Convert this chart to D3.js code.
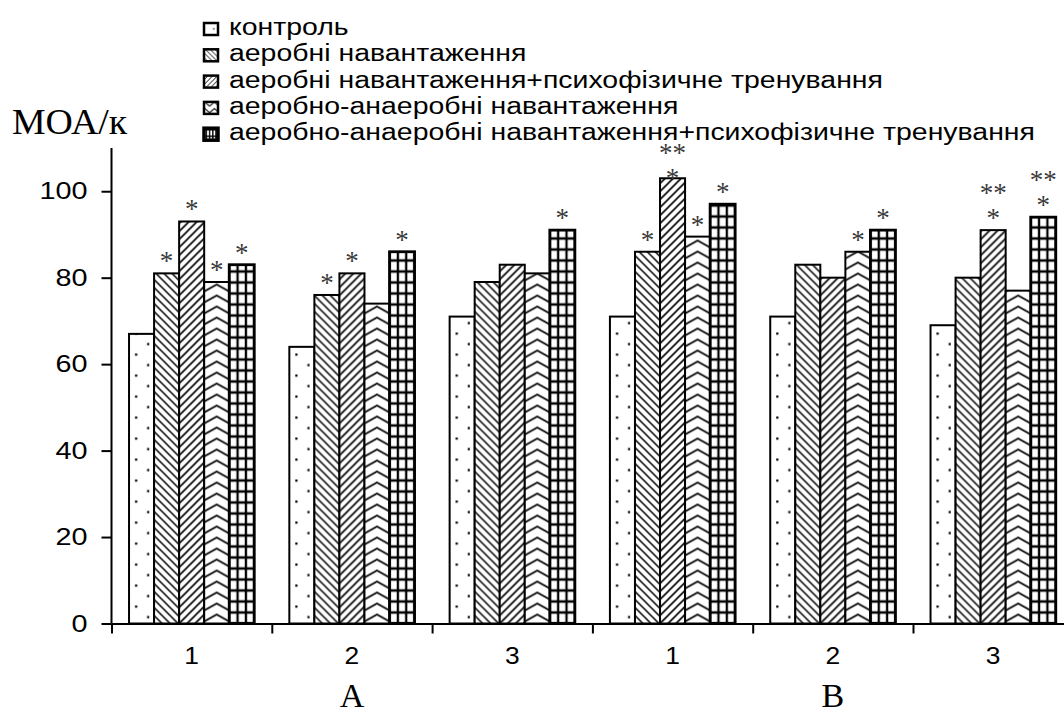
<!DOCTYPE html>
<html>
<head>
<meta charset="utf-8">
<script src="https://cdn.jsdelivr.net/npm/d3@7"></script>
<style>
  body { margin: 0; background: #fff; }
  svg { display: block; }
</style>
</head>
<body>
<script>
const w = 1064;
const h = 713;
const padding = { top: 148, bottom: 89.5, left: 111.5 };
const band = 160.3;
const sx = 1.2; // horizontal stretch of the original picture

const groups = ['A', 'B'];
const days = ['1', '2', '3'];
const seriesNames = [
  'контроль',
  'аеробні навантаження',
  'аеробні навантаження+психофізичне тренування',
  'аеробно-анаеробні навантаження',
  'аеробно-анаеробні навантаження+психофізичне тренування'
];
const control = [67, 64, 71, 71, 71, 69];
const aerobic = [81, 76, 79, 86, 83, 80];
const aerobicPsy = [93, 81, 83, 103, 80, 91];
const mixed = [79, 74, 81, 89.5, 86, 77];
const mixedPsy = [83, 86, 91, 97, 91, 94];
const starsControl = ['', '', '', '', '', ''];
const starsAerobic = ['*', '*', '', '*', '', ''];
const starsAerobicPsy = ['*', '*', '', '*|**', '', '*|**'];
const starsMixed = ['*', '', '', '*', '*', ''];
const starsMixedPsy = ['*', '*', '*', '*', '*', '*|**'];
const yTicks = [0, 20, 40, 60, 80, 100];
const yLabel = 'МОА/к';

const values = [control, aerobic, aerobicPsy, mixed, mixedPsy];
const stars = [starsControl, starsAerobic, starsAerobicPsy, starsMixed, starsMixedPsy];
const kinds = ['dots', 'back', 'fwd', 'zigzag', 'grid'];

const keys = [];
groups.forEach(g => days.forEach(d => keys.push(g + d)));

const svg = d3.select('body').append('svg')
  .attr('width', w)
  .attr('height', h);

svg.append('rect').attr('width', w).attr('height', h).attr('fill', '#fff');

const x0 = d3.scaleBand().domain(keys)
  .range([padding.left, padding.left + band * keys.length]);
const x1 = d3.scaleBand().domain(d3.range(seriesNames.length))
  .range([0, x0.bandwidth()]).paddingInner(0).paddingOuter(0.7);
const yScale = d3.scaleLinear().domain([0, 110]).range([h - padding.bottom, padding.top]);

const defs = svg.append('defs');

function fillPattern(p, kind, bw) {
  const pw = +p.attr('width'), ph = +p.attr('height');
  p.append('rect').attr('width', pw).attr('height', ph).attr('fill', '#fff');
  if (kind === 'dots') {
    p.append('rect').attr('x', 6).attr('y', 3).attr('width', 2.2).attr('height', 2.2).attr('fill', '#000');
    p.append('rect').attr('x', bw - 7).attr('y', 13.5).attr('width', 2.2).attr('height', 2.2).attr('fill', '#000');
  } else if (kind === 'back') {
    p.append('path').attr('d', 'M-2,-2L10,10M-2,6L2,10M6,-2L10,2')
      .attr('stroke', '#000').attr('stroke-width', 1.5);
  } else if (kind === 'fwd') {
    p.append('path').attr('d', 'M-2,10L10,-2M-2,2L2,-2M6,10L10,6')
      .attr('stroke', '#000').attr('stroke-width', 1.6);
  } else if (kind === 'zigzag') {
    p.append('path').attr('d', `M0,9L${bw / 2},2L${bw},9`)
      .attr('fill', 'none').attr('stroke', '#000').attr('stroke-width', 1.7);
  } else {
    p.append('path').attr('d', `M0,0V${ph}M${pw},0V${ph}M0,0H${pw}M0,${ph}H${pw}`)
      .attr('stroke', '#000').attr('stroke-width', 2.3);
  }
}

function patternSize(kind, bw) {
  if (kind === 'dots') return [bw, 21];
  if (kind === 'back' || kind === 'fwd') return [8, 8];
  if (kind === 'zigzag') return [bw, 11];
  return [bw / 3, 11];
}

// bars
const bars = [];
keys.forEach((k, gi) => {
  values.forEach((arr, si) => {
    bars.push({ key: k, gi: gi, si: si, value: arr[gi], star: stars[si][gi] });
  });
});

bars.forEach(d => {
  const bx = x0(d.key) + x1(d.si);
  const bw = x1.bandwidth();
  const kind = kinds[d.si];
  const [pw, ph] = patternSize(kind, bw);
  const p = defs.append('pattern')
    .attr('id', `p-${d.key}-${d.si}`)
    .attr('patternUnits', 'userSpaceOnUse')
    .attr('x', bx)
    .attr('y', yScale(0))
    .attr('width', pw)
    .attr('height', ph);
  fillPattern(p, kind, bw);
});

svg.selectAll('rect.bar')
  .data(bars)
  .enter()
  .append('rect')
  .attr('class', 'bar')
  .attr('x', d => x0(d.key) + x1(d.si))
  .attr('y', d => yScale(d.value))
  .attr('width', x1.bandwidth())
  .attr('height', d => yScale(0) - yScale(d.value))
  .attr('fill', d => `url(#p-${d.key}-${d.si})`)
  .attr('stroke', '#000')
  .attr('stroke-width', d => d.si === 4 ? 2.8 : 2);

// asterisks (stack pushed down when it would run into the legend)
const starGap = 25;
const starText = svg.selectAll('text.star')
  .data(bars.filter(d => d.star))
  .enter()
  .append('text')
  .attr('class', 'star')
  .attr('text-anchor', 'middle')
  .attr('font-family', '"Liberation Serif", "Times New Roman", serif')
  .attr('font-size', 27)
  .attr('fill', '#3a3a3a')
  .attr('transform', d => {
    const n = d.star.split('|').length;
    let base = yScale(d.value) - 3;
    base = Math.max(base, 162 + (n - 1) * starGap);
    return `translate(${x0(d.key) + x1(d.si) + x1.bandwidth() / 2},${base})`;
  });

starText.each(function (d) {
  d.star.split('|').forEach((s, i) => {
    d3.select(this).append('tspan')
      .attr('x', 0)
      .attr('y', -i * starGap)
      .text(s);
  });
});

// y axis
const yAxis = d3.axisLeft(yScale).tickValues(yTicks).tickSize(10).tickSizeOuter(0);
const gy = svg.append('g')
  .attr('transform', `translate(${padding.left},0)`)
  .call(yAxis);
gy.select('.domain').attr('stroke', '#000').attr('stroke-width', 2)
  .attr('d', `M0,${yScale(0)}V${padding.top}`);
gy.selectAll('.tick line').attr('stroke', '#000').attr('stroke-width', 2);
gy.selectAll('.tick text')
  .attr('font-family', '"Liberation Sans", Arial, sans-serif')
  .attr('font-size', 24)
  .attr('fill', '#000')
  .attr('transform', `scale(${sx},1)`)
  .attr('x', -24 / sx);

// x axis: boundary ticks
const xEdge = d3.scaleLinear().domain([0, keys.length]).range(x0.range());
const gx = svg.append('g')
  .attr('transform', `translate(0,${yScale(0)})`)
  .call(d3.axisBottom(xEdge).tickValues(d3.range(keys.length + 1)).tickSize(10).tickSizeOuter(0).tickFormat(''));
gx.select('.domain').attr('stroke', '#000').attr('stroke-width', 2);
gx.selectAll('.tick line').attr('stroke', '#000').attr('stroke-width', 2);

// x axis: day labels
const gxl = svg.append('g')
  .attr('transform', `translate(0,${yScale(0)})`)
  .call(d3.axisBottom(x0).tickSize(0).tickPadding(23).tickFormat(k => k.slice(1)));
gxl.select('.domain').remove();
gxl.selectAll('.tick text')
  .attr('font-family', '"Liberation Sans", Arial, sans-serif')
  .attr('font-size', 24)
  .attr('fill', '#000')
  .attr('transform', `scale(1.1,1)`);

// group labels
svg.selectAll('text.group')
  .data(groups)
  .enter()
  .append('text')
  .attr('class', 'group')
  .attr('x', g => (x0(g + days[0]) + x0(g + days[days.length - 1]) + band) / 2)
  .attr('y', 707)
  .attr('text-anchor', 'middle')
  .attr('font-family', '"Liberation Serif", "Times New Roman", serif')
  .attr('font-size', 34)
  .attr('fill', '#000')
  .text(g => g);

// y label
svg.append('text')
  .attr('transform', `translate(12,134) scale(1.08,1)`)
  .attr('font-family', '"Liberation Serif", "Times New Roman", serif')
  .attr('font-size', 35)
  .attr('fill', '#000')
  .text(yLabel);

// legend
const legend = svg.append('g').attr('transform', 'translate(203,0)');
const sw = 16, shh = 12;
const lsx = 1.21;
seriesNames.forEach((name, i) => {
  const ly = 35 + i * 26.3;
  const p = defs.append('pattern')
    .attr('id', `lp-${i}`)
    .attr('patternUnits', 'userSpaceOnUse')
    .attr('x', 203)
    .attr('y', ly - 12)
    .attr('width', patternSize(kinds[i], sw)[0])
    .attr('height', patternSize(kinds[i], sw)[1])
    .attr('patternTransform', 'scale(0.6)');
  fillPattern(p, kinds[i], sw);
  legend.append('rect')
    .attr('x', 1)
    .attr('y', ly - 12)
    .attr('width', sw - 2)
    .attr('height', shh)
    .attr('fill', `url(#lp-${i})`)
    .attr('stroke', '#000')
    .attr('stroke-width', i === 4 ? 3.5 : 2.5);
  legend.append('text')
    .attr('transform', `translate(26,${ly}) scale(${lsx},1)`)
    .attr('font-family', '"Liberation Sans", Arial, sans-serif')
    .attr('font-size', 23.5)
    .attr('fill', '#000')
    .text(name);
});
</script>
</body>
</html>
